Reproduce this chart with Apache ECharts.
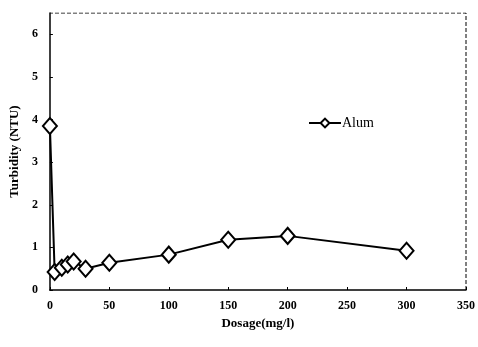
<!DOCTYPE html>
<html>
<head>
<meta charset="utf-8">
<script src="https://cdn.jsdelivr.net/npm/echarts@6/dist/echarts.min.js"></script>
<style>
  html, body { margin: 0; padding: 0; background: #fff; }
  #chart { width: 478px; height: 347px; }
</style>
</head>
<body>
<div id="chart"></div>
<script>
const dosage = [0, 4, 10, 15, 20, 30, 50, 100, 150, 200, 300]
const turbidity = [3.85, 0.42, 0.52, 0.6, 0.67, 0.5, 0.64, 0.83, 1.18, 1.27, 0.92]
const seriesName = 'Alum'

const myChart = echarts.init(document.getElementById('chart'))
const font = 'Liberation Serif'
const options = {
  animation: false,
  grid: {
    left: 44,
    right: 11,
    top: 13,
    bottom: 57
  },
  legend: {
    data: [seriesName],
    left: 303,
    top: 111,
    itemWidth: 32,
    itemHeight: 11,
    itemGap: 2,
    textStyle: { fontFamily: font, fontSize: 14, color: '#000', padding: [0, 0, 0, -4] }
  },
  xAxis: {
    type: 'value',
    min: 0,
    max: 350,
    interval: 50,
    name: 'Dosage(mg/l)',
    nameLocation: 'middle',
    nameGap: 24,
    nameTextStyle: { fontFamily: font, fontSize: 13, fontWeight: 'bold', color: '#000' },
    axisLine: { show: true, onZero: false, lineStyle: { color: '#000', width: 1.5 } },
    axisTick: { show: true, inside: true, length: 3, lineStyle: { color: '#000' } },
    axisLabel: { fontFamily: font, fontSize: 12, fontWeight: 'bold', color: '#000', margin: 10 },
    splitLine: { show: false }
  },
  yAxis: {
    type: 'value',
    min: 0,
    max: 6.5,
    interval: 1,
    name: 'Turbidity (NTU)',
    nameLocation: 'middle',
    nameGap: 28,
    nameTextStyle: { fontFamily: font, fontSize: 13, fontWeight: 'bold', color: '#000' },
    axisLine: { show: true, lineStyle: { color: '#000', width: 1.5 } },
    axisTick: { show: true, inside: true, length: 3, lineStyle: { color: '#000' } },
    axisLabel: {
      fontFamily: font, fontSize: 12, fontWeight: 'bold', color: '#000', margin: 12,
      showMaxLabel: false
    },
    splitLine: { show: false }
  },
  series: [
    {
      name: seriesName,
      type: 'line',
      data: dosage.map((d, i) => [d, turbidity[i]]),
      symbol: 'diamond',
      symbolSize: [14, 16],
      showAllSymbol: true,
      lineStyle: { color: '#000', width: 2 },
      itemStyle: { color: '#fff', borderColor: '#000', borderWidth: 2 }
    },
    {
      type: 'line',
      silent: true,
      data: [[350, 0], [350, 6.5], [0, 6.5]],
      symbol: 'none',
      lineStyle: { color: '#000', width: 1, type: [4, 2] }
    }
  ]
}
myChart.setOption(options)
</script>
</body>
</html>
